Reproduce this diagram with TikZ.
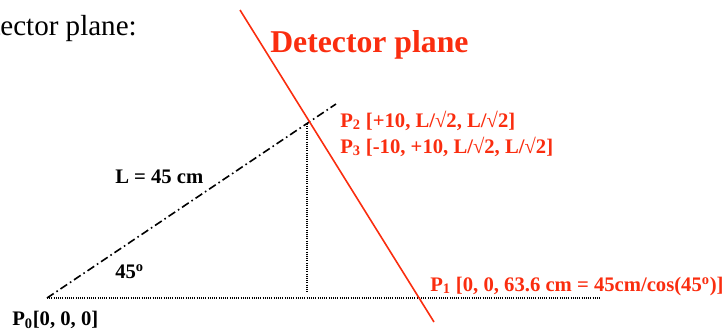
\documentclass[tikz,border=0pt]{standalone}
\usepackage{fontspec}
\setmainfont{Liberation Serif}
\definecolor{detred}{RGB}{250,45,15}
\begin{document}
\begin{tikzpicture}[x={(0.75pt,0)},y={(0,-0.75pt)},
  lbl/.style={inner sep=0pt,anchor=base west,font=\rmfamily\fontsize{15.5}{18}\selectfont\bfseries},
  redlbl/.style={lbl,text=detred},
  dashdotline/.style={line width=1.2pt,dash pattern=on 6pt off 2.5pt on 1.2pt off 2.5pt},
  dotline/.style={line width=0.8pt,dash pattern=on 0.75pt off 0.9pt},
  planeline/.style={detred,line width=1.2pt}]
\useasboundingbox (0,0) rectangle (726,333);
\clip (0,0) rectangle (726,333);
% coordinates
\coordinate (P0) at (47,298);
\coordinate (Ltop) at (336,104);
\coordinate (Hend) at (600,298);
\coordinate (Vtop) at (307,124);
\coordinate (Vbot) at (307,292);
\coordinate (Rtop) at (240,10);
\coordinate (Rbot) at (434,322);
% lines
\draw[dotline] (P0) -- (Hend);
\draw[dotline] (Vtop) -- (Vbot);
\draw[dashdotline] (P0) -- (Ltop);
\draw[planeline] (Rtop) -- (Rbot);
% texts
\node[inner sep=0pt,anchor=base east,font=\rmfamily\fontsize{21.8}{26}\selectfont] (title) at (137,35) {Detector plane:};
\node[inner sep=0pt,anchor=base west,text=detred,font=\rmfamily\fontsize{23.8}{28}\selectfont\bfseries] (dp) at (270,52) {Detector plane};
\node[redlbl] (p2) at (340,127) {P\textsubscript{2} [+10, L/√2, L/√2]};
\node[redlbl] (p3) at (340,153) {P\textsubscript{3} [-10, +10, L/√2, L/√2]};
\node[lbl] (L) at (115,183) {L = 45 cm};
\node[lbl] (ang) at (115,278) {45\textsuperscript{o}};
\node[lbl] (p0) at (12,325) {P\textsubscript{0}[0, 0, 0]};
\node[redlbl] (p1) at (430,291) {P\textsubscript{1} [0, 0, 63.6 cm = 45cm/cos(45\textsuperscript{o})]};
\end{tikzpicture}
\end{document}
